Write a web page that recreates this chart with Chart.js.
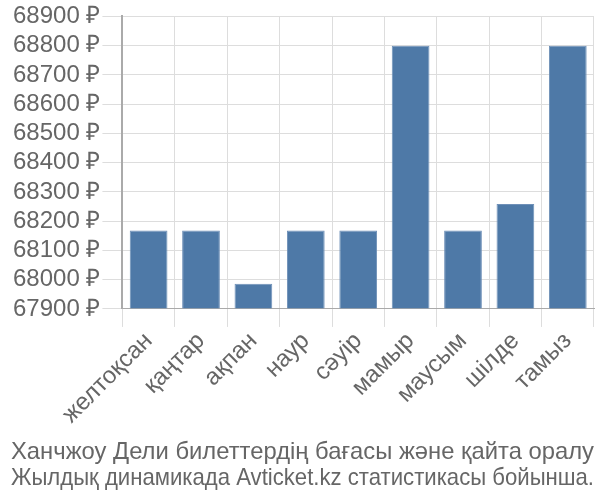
<!DOCTYPE html>
<html>
<head>
<meta charset="utf-8">
<script src="https://cdn.jsdelivr.net/npm/chart.js@4/dist/chart.umd.min.js"></script>
<style>
  html, body { margin: 0; padding: 0; background: #fff; }
  #wrap { width: 600px; height: 500px; }
</style>
</head>
<body>
<div id="wrap"><canvas id="chart"></canvas></div>
<script>
// Data
const months = ['желтоқсан', 'қаңтар', 'ақпан', 'наур', 'сәуір', 'мамыр', 'маусым', 'шілде', 'тамыз'];
const prices = [68168, 68168, 67986, 68168, 68168, 68800, 68168, 68259, 68800];
const yMin = 67900;
const yMax = 68900;
const yStep = 100;
const titleLines = [
  'Ханчжоу Дели билеттердің бағасы және қайта оралу',
  'Жылдық динамикада Avticket.kz статистикасы бойынша.'
];

Chart.defaults.font.family = "'Liberation Sans', Arial, sans-serif";
Chart.defaults.color = '#666';

new Chart(document.getElementById('chart'), {
  type: 'bar',
  data: {
    labels: months,
    datasets: [{
      data: prices,
      backgroundColor: '#4e79a7',
      borderColor: '#6f90b8',
      borderWidth: 1,
      categoryPercentage: 0.72,
      barPercentage: 1.0,
      base: yMin
    }]
  },
  options: {
    responsive: true,
    maintainAspectRatio: false,
    animation: false,
    layout: { padding: { top: 1, right: 6, left: 11, bottom: 9 } },
    plugins: {
      legend: { display: false },
      tooltip: { enabled: false },
      title: {
        display: true,
        position: 'bottom',
        text: titleLines,
        color: '#666',
        font: { size: 24, weight: 'normal', lineHeight: 1.08 },
        padding: { top: 10, bottom: 0 }
      }
    },
    scales: {
      x: {
        grid: { color: '#ddd', lineWidth: 1, tickLength: 18, offset: true },
        border: { color: '#aaa' },
        ticks: {
          font: { size: 24 },
          color: '#666',
          maxRotation: 45,
          minRotation: 45,
          autoSkip: false,
          padding: 0
        }
      },
      y: {
        min: yMin,
        max: yMax,
        grid: { color: '#ddd', lineWidth: 1, tickLength: 20 },
        border: { color: '#aaa', width: 2 },
        ticks: {
          stepSize: yStep,
          autoSkip: false,
          font: { size: 24 },
          color: '#666',
          padding: 2,
          callback: val => val + ' ₽'
        }
      }
    }
  }
});
</script>
</body>
</html>
